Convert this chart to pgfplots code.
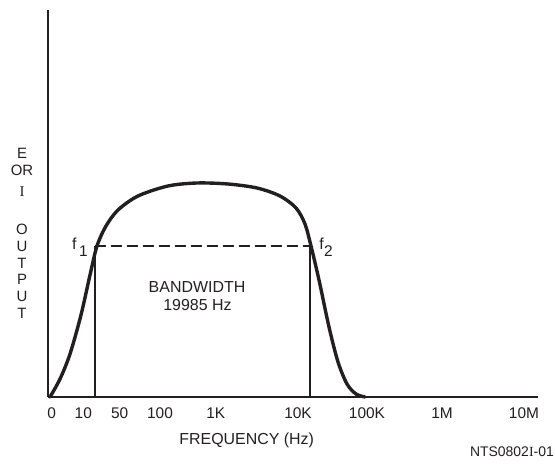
\documentclass[border=0pt]{standalone}
\usepackage{fontspec}
\setmainfont{Liberation Sans}
\newfontfamily\serifI{Liberation Serif}
\usepackage{pgfplots}
\pgfplotsset{compat=1.18}
\definecolor{ink}{HTML}{231F20}
\begin{document}
\begin{tikzpicture}
\begin{axis}[
  x=1bp, y=1bp, xmin=0, xmax=490, ymin=0, ymax=387,
  axis lines=left, axis line style={-, line width=1.5bp, draw=ink},
  enlargelimits=false, clip=false,
  ytick=\empty,
  xtick={3.7,35.3,71.7,112,167.7,250,319,394,476},
  xticklabels={0,10,50,100,1K,10K,100K,1M,10M},
  major tick length=0pt,
  xticklabel style={anchor=base, yshift=-22bp, font=\fontsize{15.5}{18}\selectfont, text=ink},
]
% response curve
\addplot[ink, line width=3.4bp, smooth, tension=0.5, line cap=round] coordinates {
  (2,0) (12,18) (22,43) (33,82) (42,122) (49,151) (58,171) (70,187)
  (90,201) (120,211) (149,214) (180,213) (209,209) (232,201) (248,189)
  (257,173) (263,151) (271,117) (281,70) (290,35) (299,13) (308,3) (317,0)
};
% half-power line and cutoff markers
\addplot[ink, line width=1.3bp, dash pattern=on 10.5bp off 5.5bp] coordinates {(47,151) (262,151)};
\addplot[ink, line width=1.3bp] coordinates {(47,0) (47,151)};
\addplot[ink, line width=1.3bp] coordinates {(262,0) (262,151)};

\begin{scope}[font=\fontsize{16}{19}\selectfont, text=ink]
\node at (axis cs:26.3,153) {f};
\node[font=\fontsize{15.5}{18}\selectfont] at (axis cs:35.3,146) {1};
\node at (axis cs:273.7,153) {f};
\node[font=\fontsize{15.5}{18}\selectfont] at (axis cs:280.3,146) {2};
\node at (axis cs:149,110) {BANDWIDTH};
\node at (axis cs:149.5,92) {19985 Hz};
\node at (axis cs:198.7,-43) {FREQUENCY (Hz)};
\end{scope}
\begin{scope}[font=\fontsize{15}{18}\selectfont, text=ink]
\node at (axis cs:-26,244) {E};
\node at (axis cs:-26,227) {OR};
\node at (axis cs:-26,205) {\serifI I};
\node at (axis cs:-26,168) {O};
\node at (axis cs:-26,151) {U};
\node at (axis cs:-26,134) {T};
\node at (axis cs:-26,118) {P};
\node at (axis cs:-26,101) {U};
\node at (axis cs:-26,84) {T};
\end{scope}
\node[anchor=east, inner sep=0pt, font=\fontsize{14}{17}\selectfont, text=ink] at (axis cs:506,-55) {NTS0802{\serifI I}-01};
\path (axis cs:-48,-67) rectangle (axis cs:507,397);
\end{axis}
\end{tikzpicture}
\end{document}
